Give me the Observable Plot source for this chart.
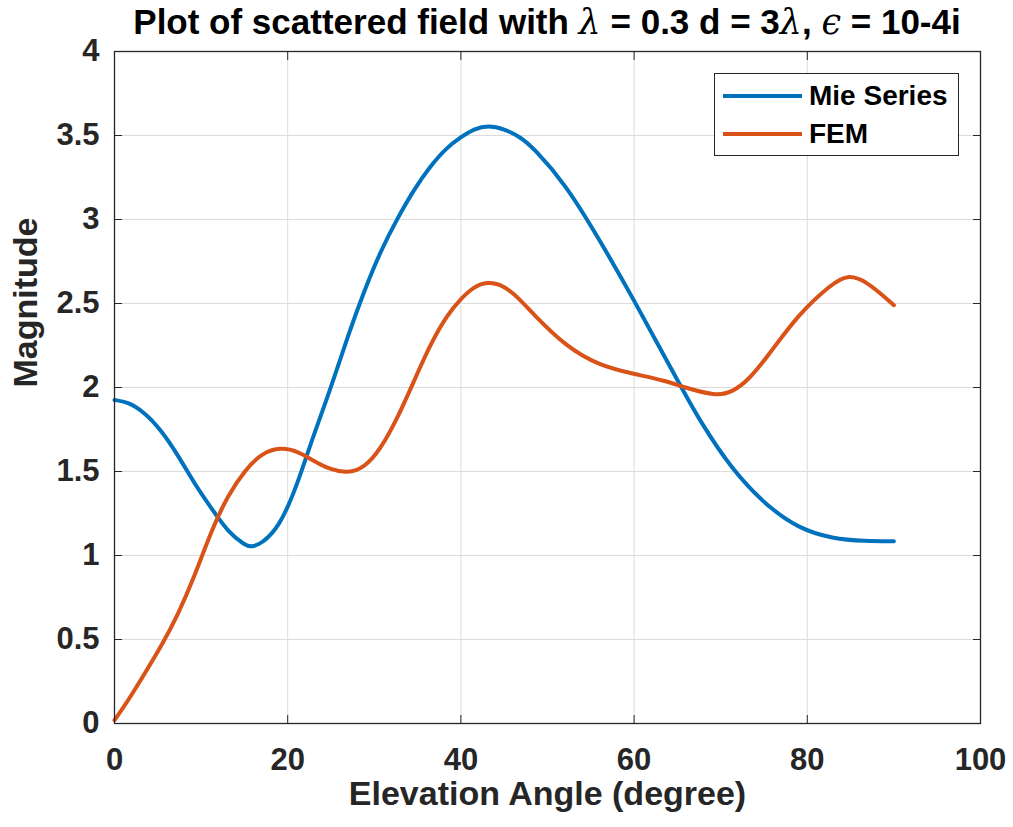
<!DOCTYPE html>
<html>
<head>
<meta charset="utf-8">
<script src="https://cdn.jsdelivr.net/npm/d3@7"></script>
<script src="https://cdn.jsdelivr.net/npm/@observablehq/plot@0.6"></script>
<style>
  html, body { margin: 0; padding: 0; background: #fff; }
  #wrap { position: relative; width: 1013px; height: 827px; font-family: "Liberation Sans", Arial, sans-serif; }
  #title { position: absolute; left: 114px; width: 866px; top: 2px; text-align: center; font-weight: bold; font-size: 35px; color: #000; white-space: nowrap; line-height: 40px; }
  #title .sym { font-family: "DejaVu Serif", serif; font-weight: normal; font-style: italic; }
  #legend { position: absolute; left: 714px; top: 73px; width: 243px; height: 81px; border: 1.3px solid #262626; background: #fff; }
  .row { position: absolute; left: 0; height: 30px; display: flex; align-items: center; }
  .sw { width: 79px; height: 4px; margin-left: 8px; margin-right: 7px; }
  .lab { font-weight: bold; font-size: 28px; color: #000; }
</style>
</head>
<body>
<div id="wrap">
  <div id="chart"></div>
  <div id="title">Plot of scattered field with <span class="sym">λ</span> = 0.3 d = 3<span class="sym">λ</span>, <span class="sym">ϵ</span> = 10-4i</div>
  <div id="legend"></div>
</div>
<script>
const xTicks = [0, 20, 40, 60, 80, 100];
const yTicks = [0, 0.5, 1, 1.5, 2, 2.5, 3, 3.5, 4];
const seriesNames = ["Mie Series", "FEM"];
const seriesColors = ["#0072BD", "#D95319"];
const xLabel = "Elevation Angle (degree)";
const yLabel = "Magnitude";

const mieAngle = [0, 1.5, 3.4, 5.4, 7.3, 9.2, 11.2, 13.1, 15.1, 15.8, 17, 19, 20.8, 22.3, 23.1, 25, 26.9, 28.8, 30.7, 32.7, 34.6, 36.5, 38.4, 40, 41.5, 43.2, 44.95, 46.9, 48.3, 52.1, 56, 60, 63.65, 65.8, 67.5, 71.3, 75.2, 79, 82.9, 86.7, 90];
const mieMag   = [1.925, 1.915, 1.855, 1.746, 1.60, 1.43, 1.28, 1.14, 1.06, 1.05, 1.07, 1.17, 1.38, 1.61, 1.73, 2.0, 2.30, 2.57, 2.81, 3.01, 3.18, 3.32, 3.43, 3.49, 3.54, 3.56, 3.54, 3.49, 3.43, 3.21, 2.88, 2.52, 2.17, 1.97, 1.81, 1.51, 1.30, 1.16, 1.10, 1.085, 1.085];

const femAngle = [0, 1.5, 3.4, 5.4, 7.3, 9.2, 11.2, 13.1, 15.1, 17, 19.2, 21.2, 23.1, 25, 26.9, 28.8, 30.7, 32.7, 34.6, 36.5, 38.4, 40, 41.5, 43, 44.95, 46.9, 48.3, 52.1, 56, 60, 63.65, 65.8, 69.4, 71.3, 73.3, 75.2, 79, 82.9, 84.6, 86.7, 90];
const femMag   = [0.02, 0.13, 0.29, 0.46, 0.645, 0.87, 1.15, 1.36, 1.51, 1.61, 1.645, 1.62, 1.56, 1.51, 1.49, 1.52, 1.63, 1.82, 2.04, 2.26, 2.43, 2.53, 2.60, 2.63, 2.61, 2.52, 2.44, 2.245, 2.13, 2.08, 2.04, 2.0, 1.95, 1.97, 2.05, 2.17, 2.44, 2.62, 2.67, 2.64, 2.49];

const mie = mieAngle.map((a, i) => ({angle: a, mag: mieMag[i]}));
const fem = femAngle.map((a, i) => ({angle: a, mag: femMag[i]}));

const tickFont = {fontSize: 31, fontWeight: "bold", fill: "#262626"};
const chart = Plot.plot({
  width: 1013,
  height: 827,
  marginTop: 51,
  marginBottom: 104,
  marginLeft: 114,
  marginRight: 33,
  x: {domain: [0, 100]},
  y: {domain: [0, 4]},
  style: {fontFamily: "'Liberation Sans', Arial, sans-serif", fontWeight: "bold", fontSize: "31px", color: "#262626", background: "#fff"},
  marks: [
    Plot.gridX(xTicks, {stroke: "#dcdcdc", strokeOpacity: 1, strokeWidth: 1}),
    Plot.gridY(yTicks, {stroke: "#dcdcdc", strokeOpacity: 1, strokeWidth: 1}),
    Plot.line(mie, {x: "angle", y: "mag", stroke: seriesColors[0], strokeWidth: 4, curve: "basis"}),
    Plot.line(fem, {x: "angle", y: "mag", stroke: seriesColors[1], strokeWidth: 4, curve: "basis"}),
    Plot.frame({stroke: "#262626", strokeWidth: 1.3}),
    Plot.axisX(xTicks, {anchor: "bottom", tickSize: 0, tickPadding: 24, label: null, tickFormat: d => String(d), ...tickFont}),
    Plot.axisX(xTicks, {anchor: "bottom", tickSize: 8, dy: -8, tickFormat: () => "", label: null, stroke: "#262626"}),
    Plot.axisX(xTicks, {anchor: "top", tickSize: 8, dy: 8, tickFormat: () => "", label: null, stroke: "#262626"}),
    Plot.axisY(yTicks, {anchor: "left", tickSize: 0, tickPadding: 15, label: null, tickFormat: d => String(d), ...tickFont}),
    Plot.axisY(yTicks, {anchor: "left", tickSize: 8, dx: 8, tickFormat: () => "", label: null, stroke: "#262626"}),
    Plot.axisY(yTicks, {anchor: "right", tickSize: 8, dx: -8, tickFormat: () => "", label: null, stroke: "#262626"}),
    Plot.text([xLabel], {frameAnchor: "bottom", dy: 81, text: d => d, fontSize: 34, fontWeight: "bold", fill: "#262626"}),
    Plot.text([yLabel], {frameAnchor: "left", dx: -88, rotate: -90, text: d => d, fontSize: 34, fontWeight: "bold", fill: "#262626"})
  ]
});
document.getElementById("chart").append(chart);

const legend = document.getElementById("legend");
seriesNames.forEach((name, i) => {
  const row = document.createElement("div");
  row.className = "row";
  row.style.top = (7 + i * 38) + "px";
  const sw = document.createElement("div");
  sw.className = "sw";
  sw.style.background = seriesColors[i];
  const lab = document.createElement("span");
  lab.className = "lab";
  lab.textContent = name;
  row.append(sw, lab);
  legend.append(row);
});
</script>
</body>
</html>
